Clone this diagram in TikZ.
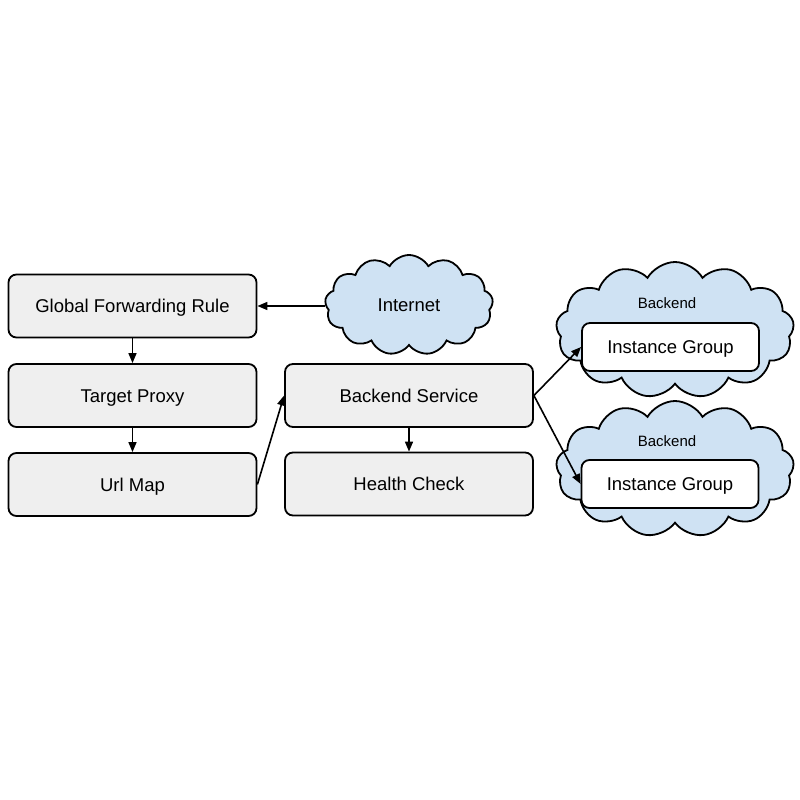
\documentclass[tikz,border=0pt]{standalone}
\usepackage{fontspec}
\setmainfont{Liberation Sans}
\usetikzlibrary{shapes.symbols,arrows.meta}
\definecolor{boxfill}{HTML}{EFEFEF}
\definecolor{cloudfill}{HTML}{CFE2F3}
\begin{document}
\begin{tikzpicture}[x=1pt,y=-1pt,
  txt/.style={font=\fontsize{18.5}{20}\selectfont,text height=13.2pt,text depth=0pt},
  gbox/.style={draw=black,line width=1.8pt,rounded corners=8pt,fill=boxfill,minimum width=248pt,minimum height=63pt,inner sep=0pt,txt},
  wbox/.style={draw=black,line width=1.8pt,rounded corners=8pt,fill=white,minimum width=177pt,minimum height=48pt,inner sep=0pt,txt},
  cloudy/.style={cloud,cloud puffs=13,cloud puff arc=120,draw=black,line width=1.8pt,fill=cloudfill,inner sep=0pt},
  conn/.style={line width=1.6pt,-{Triangle[length=10pt,width=8pt]}},
  lbl/.style={font=\fontsize{15}{17}\selectfont,inner sep=0pt,text height=10.7pt,text depth=0pt}
]
\useasboundingbox (0,0) rectangle (800,800);
% left column
\node[gbox] (gfr) at (132.5,306) {Global Forwarding Rule};
\node[gbox] (tp) at (132.5,395.5) {Target Proxy};
\node[gbox] (um) at (132.5,484.5) {Url Map};
% middle column
\node[gbox] (bs) at (409,395.5) {Backend Service};
\node[gbox] (hc) at (409,484) {Health Check};
% internet
\node[cloudy,minimum width=168pt,minimum height=100pt,txt] (inet) at (409,305) {Internet};
% backend clouds
\node[cloudy,minimum width=238pt,minimum height=136pt] (c1) at (675,330) {};
\node[cloudy,minimum width=238pt,minimum height=136pt] (c2) at (675,469) {};
\node[lbl] (b1) at (667,303) {Backend};
\node[lbl] (b2) at (667,441) {Backend};
\node[wbox] (ig1) at (670.5,347) {Instance Group};
\node[wbox] (ig2) at (670,484) {Instance Group};
% connectors
\draw[conn] (inet.west |- gfr.east) -- (gfr.east);
\draw[conn] (gfr.south) -- (tp.north);
\draw[conn] (tp.south) -- (um.north);
\draw[conn] (um.east) -- (bs.west);
\draw[conn] (bs.south) -- (hc.north);
\draw[conn] (bs.east) -- (ig1.west);
\draw[conn] (bs.east) -- (ig2.west);
\end{tikzpicture}
\end{document}
